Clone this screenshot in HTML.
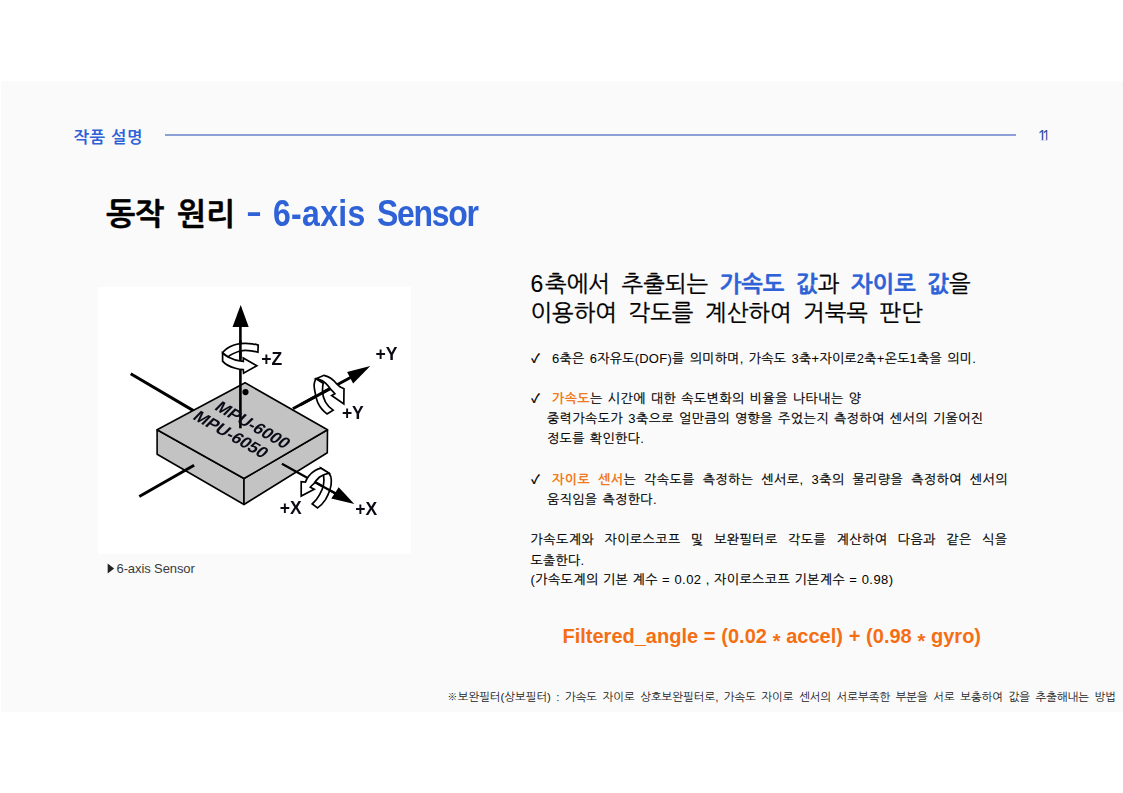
<!DOCTYPE html>
<html lang="ko">
<head>
<meta charset="utf-8">
<title>동작 원리 - 6-axis Sensor</title>
<style>
  html, body { margin: 0; padding: 0; background: #ffffff; }
  body { width: 1123px; height: 793px; position: relative; overflow: hidden;
         font-family: "Liberation Sans", "NanumGothic", "Noto Sans CJK KR", sans-serif; color: #000; }
  .abs { position: absolute; white-space: nowrap; }
  #band { position: absolute; left: 1px; top: 81px; width: 1122px; height: 631px; background: #fafafa; }
  #sec { left: 73.5px; top: 127px; font-size: 16.5px; font-weight: bold; color: #2e62d6; line-height: 20px; letter-spacing: 0.6px; word-spacing: -0.2px; }
  #rule { position: absolute; left: 165px; top: 134px; width: 851px; height: 2px; background: #8c9fd6; }
  #pg { left: 1038px; top: 125px; font-size: 15px; color: #2d4fa8; line-height: 16px; letter-spacing: -3px; clip-path: inset(0 0 4.3px 0); transform-origin: 0 0; transform: translateY(2.6px) scaleY(1.08); }
  .t { top: 195px; font-size: 32px; font-weight: bold; line-height: 40px; color: #2e62d6; }
  #t1 { left: 106px; font-size: 31px; color: #000; -webkit-text-stroke: 0.4px #000; letter-spacing: -0.2px; word-spacing: 4.7px; }
  #t2 { left: 246px; top: 191.3px; transform-origin: 0 50%; transform: scaleX(1.5); }
  #t3 { left: 273px; letter-spacing: 0.3px; transform-origin: 0 31px; transform: scaleY(1.14); }
  #t4 { left: 377px; letter-spacing: -1.3px; transform-origin: 0 31px; transform: scaleY(1.14); }
  #cap { left: 116.5px; top: 561px; font-size: 13px; line-height: 16px; color: #3a3a3a; letter-spacing: -0.1px; }
  #tri { left: 106.3px; top: 561px; font-size: 12px; line-height: 16px; color: #222; transform-origin: 0 50%; transform: scale(0.87,1.09); }
  .h { font-size: 23px; line-height: 30px; left: 530.5px; word-spacing: 5.2px; -webkit-text-stroke: 0.3px; }
  .h b { color: #2e62d6; }
  .p { font-size: 13px; line-height: 20px; left: 530.5px; letter-spacing: 0.5px; word-spacing: 1px; -webkit-text-stroke: 0.2px #000; }
  .ck { font-size: 12.5px; line-height: 20px; left: 531px; font-weight: bold; }
  .j { white-space: normal; text-align: justify; text-align-last: justify; }
  .n { -webkit-text-stroke: 0; }
  .o { color: #f07a22; font-weight: bold; -webkit-text-stroke: 0; }
  #formula { left: 562.5px; top: 624px; font-size: 20px; font-weight: bold; color: #f46f14; line-height: 24px; word-spacing: 0.2px; }
  #formula i { font-style: normal; position: relative; top: 5px; }
  #foot { left: 447px; top: 689px; font-size: 11.5px; line-height: 16px; color: #222; letter-spacing: -0.1px; word-spacing: 2.4px; }
</style>
</head>
<body>
<div id="band"></div>
<div id="sec" class="abs">작품 설명</div>
<div id="rule"></div>
<div id="pg" class="abs">11</div>
<div id="t1" class="abs t">동작 원리</div><div id="t2" class="abs t">-</div><div id="t3" class="abs t">6-axis</div><div id="t4" class="abs t">Sensor</div>
<!--CHIP-START-->
<svg id="chip" viewBox="97.5 286.5 313.5 267.5" width="313.5" height="267.5" style="position:absolute;left:97.5px;top:286.5px;overflow:hidden;filter:blur(0.35px)">
  <rect x="97.5" y="286.5" width="313.5" height="267.5" fill="#ffffff"/>
  <g fill="none" stroke="#000" stroke-linecap="butt" stroke-linejoin="miter">
    <!-- back lines (-Y and -X axes) -->
    <line x1="130.2" y1="373.2" x2="195" y2="411.4" stroke-width="3"/>
    <!-- chip body -->
    <g stroke-width="1.6" fill="#c3c3c3" stroke-linejoin="round">
      <polygon points="156.6,429.3 243.5,478 243.5,504 156.6,453.8"/>
      <polygon points="327,429.3 326.8,452.2 243.5,504 243.5,478"/>
      <polygon points="244.6,382.3 327,429.3 243.5,478 156.6,429.3"/>
    </g>
    <line x1="138.8" y1="496" x2="193.6" y2="464.8" stroke-width="3"/>
    <!-- +Y axis -->
    <line x1="292.4" y1="408.3" x2="350" y2="377" stroke-width="3"/>
    <!-- +X axis -->
    <line x1="281.4" y1="463.3" x2="336" y2="493.5" stroke-width="2.2"/>
    <!-- +Z axis -->
    <line x1="239.9" y1="326" x2="239.9" y2="427.8" stroke-width="2.6"/>
  </g>
  <g fill="#000" stroke="none">
    <polygon points="240.2,304.5 232,326.6 248.2,326.6"/>
    <polygon points="369.8,365.6 346.6,371.4 352.6,383.1"/>
    <polygon points="353.8,503.5 338.2,486.8 330.8,498.1"/>
    <circle cx="245" cy="391.6" r="3.1"/>
  </g>
  <!-- chip text -->
  <g font-family="'Liberation Sans', sans-serif" font-weight="bold" font-size="17" fill="#0b0b18">
    <text transform="matrix(0.87,0.494,-0.70,0.72,213,408.6)" x="0" y="0">MPU-6000</text>
    <text transform="matrix(0.87,0.494,-0.70,0.72,191.2,418)" x="0" y="0">MPU-6050</text>
  </g>
  <!-- Z rotation ribbon -->
  <g fill="#fff" stroke="#000" stroke-width="1.7" stroke-linejoin="miter">
    <path d="M257.7,344.6 C250,342.2 238,341.8 229.9,346 C226,348 223.4,350.2 222.1,352.4 L227.5,356.4 C229.5,354.6 232.8,352.8 239.9,350.3 C246,349 251,350 257.4,351.7 Z"/>
  </g>
  <line x1="239.9" y1="340" x2="239.9" y2="358" stroke="#000" stroke-width="2.6"/>
  <g fill="#fff" stroke="#000" stroke-width="1.7" stroke-linejoin="miter">
    <path d="M222.1,352.4 L222.1,360.6 C224,363 229,366 234.9,367.7 C238,368.6 240.5,369 242.8,369.2 L243.1,372.7 L256.3,365.3 L242.8,357.4 L242.8,361 C238,360.6 232,358.8 227.5,356.4 C225,355 223.2,353.6 222.1,352.4 Z"/>
  </g>
  <!-- Y rotation ribbon -->
  <g fill="#fff" stroke="#000" stroke-width="1.7" stroke-linejoin="miter">
    <path d="M315.5,378.2 C313.6,381.5 313.2,385 314,388.8 C315,394 315.5,398 317.4,402.4 C319.6,407 322.6,410.6 326.5,413.4 L332.6,409.6 C329.4,407.4 326.8,404.8 325,401.6 C323,398 322,394.4 322,390.3 C322,387.4 322.2,384.8 322.7,382.7 Z"/>
  </g>
  <line x1="300" y1="404.2" x2="331" y2="387.4" stroke="#000" stroke-width="3"/>
  <g fill="#fff" stroke="#000" stroke-width="1.7" stroke-linejoin="miter">
    <path d="M315.5,378.2 L323.5,374.8 C326,375.4 328.4,376.4 330.3,377.8 C332.8,379.6 334.6,381.4 336.3,383.5 L339.4,386.3 L343.5,388.2 L343.3,403.5 L331.2,395 L334.4,393.3 C333.2,391.8 331.8,390.2 330.3,388.8 C328.6,386.6 327,384.6 325,382.7 C323,380.8 320.6,379.6 318.2,378.9 Z"/>
  </g>
  <!-- X rotation ribbon -->
  <g fill="#fff" stroke="#000" stroke-width="1.7" stroke-linejoin="miter">
    <path d="M320.5,467.7 L328.4,472.6 C330,474.6 330.8,476.8 330.8,479.5 C331,482.8 330.6,486 329.4,489.3 C328.4,492.6 327,495.8 325,499.1 C322.8,502.4 320.2,505.2 317.1,507.4 L311.7,503.5 C314.8,500.8 317.2,497.8 319.1,494.2 C321,490.8 322.4,487.6 323,484.4 C323.6,481 323.6,477.8 323,474.6 Z"/>
  </g>
  <line x1="311" y1="479.7" x2="336" y2="493.5" stroke="#000" stroke-width="2.2"/>
  <g fill="#fff" stroke="#000" stroke-width="1.7" stroke-linejoin="miter">
    <path d="M320.5,467.7 C318.2,468.2 316.2,469 314.2,470.2 C311.8,471.6 309.9,473.4 308.3,475.6 C306.8,477.6 305.7,479.6 304.9,481.6 L300.7,481.2 L300.7,495.6 L313.7,488.8 L309.8,486.8 C310.6,485.6 311.8,484.4 313.2,483.4 C314.8,480.8 316.8,478.6 319.1,476.5 C321.8,474.6 324.8,473.4 328.4,472.6 Z"/>
  </g>
  <!-- labels -->
  <g font-family="'Liberation Sans', sans-serif" font-weight="bold" font-size="17.5" fill="#0a0a14">
    <text x="260.8" y="364.5">+Z</text>
    <text x="375" y="359.6">+Y</text>
    <text x="341.4" y="418.2">+Y</text>
    <text x="279.2" y="513.8">+X</text>
    <text x="354.8" y="514.7">+X</text>
  </g>
</svg>
<!--CHIP-END-->
<div id="tri" class="abs">▶</div><div id="cap" class="abs">6-axis Sensor</div>

<div class="abs h" id="h1" style="top:269px"><span style="letter-spacing:1.8px;-webkit-text-stroke:0.1px">6</span>축에서 추출되는 <b>가속도 값</b>과 <b>자이로 값</b>을</div>
<div class="abs h" id="h2" style="top:298px">이용하여 각도를 계산하여 거북목 판단</div>

<div class="abs ck" style="top:349px">✓</div>
<div class="abs p" id="la" style="top:349px;left:552px;letter-spacing:0.25px;word-spacing:1.45px"><span class="n">6</span>축은 <span class="n">6</span>자유도<span class="n">(DOF)</span>를 의미하며<span class="n">,</span> 가속도 <span class="n">3</span>축<span class="n">+</span>자이로<span class="n">2</span>축<span class="n">+</span>온도<span class="n">1</span>축을 의미<span class="n">.</span></div>
<div class="abs ck" style="top:389px">✓</div>
<div class="abs p" id="lb" style="top:389px;left:552px;letter-spacing:0.46px"><span class="o">가속도</span>는 시간에 대한 속도변화의 비율을 나타내는 양</div>
<div class="abs p" id="lc" style="top:409px;left:547px;letter-spacing:0.47px">중력가속도가 <span class="n">3</span>축으로 얼만큼의 영향을 주었는지 측정하여 센서의 기울어진</div>
<div class="abs p" id="ld" style="top:429px;left:547px;letter-spacing:0.4px">정도를 확인한다<span class="n">.</span></div>
<div class="abs ck" style="top:470px">✓</div>
<div class="abs p j" id="le" style="top:470px;left:552px;width:456px"><span class="o">자이로 센서</span>는 각속도를 측정하는 센서로<span class="n">, 3</span>축의 물리량을 측정하여 센서의</div>
<div class="abs p" id="lf" style="top:490px;left:547px;letter-spacing:0.4px">움직임을 측정한다<span class="n">.</span></div>
<div class="abs p j" id="lg" style="top:530px;width:477px">가속도계와 자이로스코프 및 보완필터로 각도를 계산하여 다음과 같은 식을</div>
<div class="abs p" id="lh" style="top:551px;letter-spacing:0.3px">도출한다<span class="n">.</span></div>
<div class="abs p" id="li" style="top:570px;letter-spacing:0.45px;word-spacing:0.2px"><span class="n">(</span>가속도계의 기본 계수 <span class="n">= 0.02 ,</span> 자이로스코프 기본계수 <span class="n">= 0.98)</span></div>

<div id="formula" class="abs">Filtered_angle = (0.02 <i>*</i> accel) + (0.98 <i>*</i> gyro)</div>
<div id="foot" class="abs">※보완필터(상보필터) : 가속도 자이로 상호보완필터로, 가속도 자이로 센서의 서로부족한 부분을 서로 보충하여 값을 추출해내는 방법</div>
</body>
</html>
